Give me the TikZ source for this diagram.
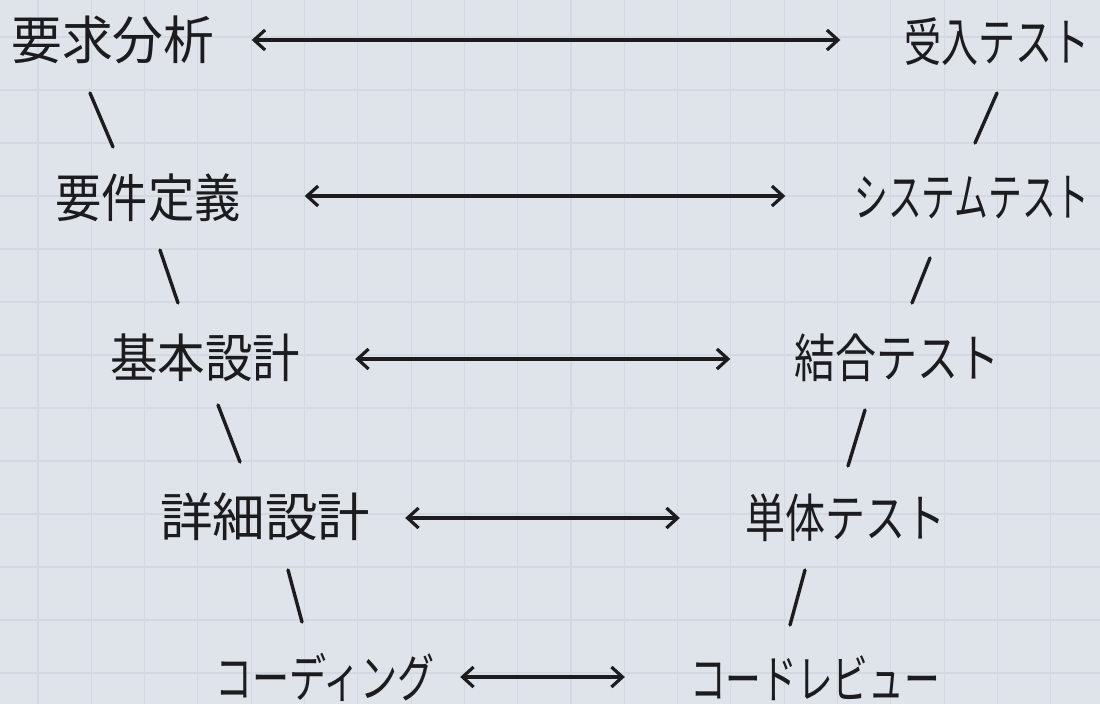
\documentclass[tikz,border=0pt]{standalone}
\usepackage{fontspec}
\newfontfamily\jp{Noto Sans CJK JP}
\usetikzlibrary{arrows.meta,calc}
\definecolor{paper}{HTML}{DFE4EB}
\definecolor{gridc}{HTML}{D3D9E1}
\definecolor{ink}{HTML}{1C1C1E}
\newcommand{\lbl}[2]{\resizebox{#1pt}{\height}{#2}}
\begin{document}
\begin{tikzpicture}[x=1pt,y=-1pt,
  lab/.style={inner sep=0pt, text=ink, font=\jp\fontsize{52}{56}\selectfont},
  biarrow/.style={draw=ink, line width=3.2pt,
    {Straight Barb[length=11pt,width=20pt]}-{Straight Barb[length=11pt,width=20pt]}},
  conn/.style={draw=ink, line width=3.4pt, line cap=round}]
\fill[paper] (0,0) rectangle (1100,704);
\useasboundingbox (0,0) rectangle (1100,704);
\foreach \i in {0,...,20} \draw[gridc, line width=1.1pt] ({38+53.3*\i},0) -- ++(0,704);
\foreach \j in {0,...,13} \draw[gridc, line width=1.1pt] (0,{37+53*\j}) -- ++(1100,0);

\node[lab] (reqA)   at (113,40)  {\lbl{203}{要求分析}};
\node[lab] (acc)    at (997,42)  {\lbl{185}{受入テスト}};
\node[lab] (reqD)   at (148,198) {\lbl{185}{要件定義}};
\node[lab] (sys)    at (972,198) {\lbl{235}{システムテスト}};
\node[lab] (basic)  at (205,358) {\lbl{190}{基本設計}};
\node[lab] (integ)  at (897,358) {\lbl{205}{結合テスト}};
\node[lab] (detail) at (265,517) {\lbl{210}{詳細設計}};
\node[lab] (unit)   at (845,518) {\lbl{200}{単体テスト}};
\node[lab] (coding) at (325,677) {\lbl{220}{コーディング}};
\node[lab] (review) at (815,678) {\lbl{250}{コードレビュー}};

\draw[biarrow, shorten <=37pt, shorten >=64pt] (reqA.east) -- (reqA.east -| acc.west);
\draw[biarrow, shorten <=64pt, shorten >=69pt] ([yshift=2pt]reqD.east) -- ([yshift=2pt]reqD.east -| sys.west);
\draw[biarrow, shorten <=55pt, shorten >=64pt] ([yshift=-1pt]basic.east) -- ([yshift=-1pt]basic.east -| integ.west);
\draw[biarrow, shorten <=35pt, shorten >=65pt] ([yshift=-1pt]detail.east) -- ([yshift=-1pt]detail.east -| unit.west);
\draw[biarrow, shorten <=25pt, shorten >=65pt] (coding.east) -- (coding.east -| review.west);

\draw[conn] ($(reqA.center)+(-23,53)$) -- ($(reqD.center)+(-35,-51)$);
\draw[conn] ($(reqD.center)+(12,52)$) -- ($(basic.center)+(-27,-55)$);
\draw[conn] ($(basic.center)+(13,47)$) -- ($(detail.center)+(-25,-55)$);
\draw[conn] ($(detail.center)+(23,53)$) -- ($(coding.center)+(-23,-55)$);
\draw[conn] ($(acc.center)+(0,51)$) -- ($(sys.center)+(3,-55)$);
\draw[conn] ($(sys.center)+(-42,60)$) -- ($(integ.center)+(15,-55)$);
\draw[conn] ($(integ.center)+(-32,52)$) -- ($(unit.center)+(3,-52)$);
\draw[conn] ($(unit.center)+(-40,52)$) -- ($(review.center)+(-25,-53)$);
\end{tikzpicture}
\end{document}
